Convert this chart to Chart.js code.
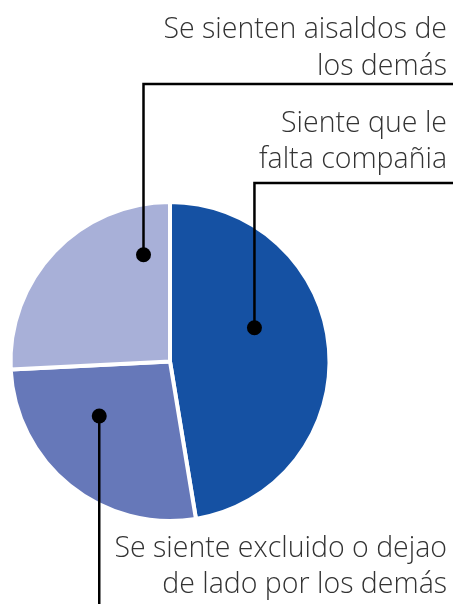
<!DOCTYPE html>
<html>
<head>
<meta charset="utf-8">
<script src="https://cdn.jsdelivr.net/npm/chart.js@4.4.0/dist/chart.umd.min.js"></script>
<style>
  html, body { margin: 0; padding: 0; background: #fff; }
  canvas { display: block; }
</style>
</head>
<body>
<canvas id="pieChart" width="453" height="604"></canvas>
<script>
// data (percent of respondents)
const categories = [
    'Siente que le falta compañia',
    'Se siente excluido o dejao de lado por los demás',
    'Se sienten aisaldos de los demás'
];
const values = [47.4, 26.8, 25.8];
const sliceColors = ['#1551a3', '#6678b9', '#a8b0d8'];

// label text split in lines, as printed
const labelLines = [
    ['Siente que le', 'falta compañia'],
    ['Se siente excluido o dejao', 'de lado por los demás'],
    ['Se sienten aisaldos de', 'los demás']
];

// where the dot sits inside each slice and where its label goes
const callouts = [
    { along: 0.40, depth: 0.57, lineY: 183, textY: [132, 168], dir: 'up' },
    { along: 0.64, depth: 0.56, lineY: 604, textY: [557, 593], dir: 'down' },
    { along: 0.85, depth: 0.69, lineY: 84,  textY: [38, 75],   dir: 'up' }
];

const calloutPlugin = {
    id: 'callouts',
    afterDraw(chart) {
        const ctx = chart.ctx;
        const arcs = chart.getDatasetMeta(0).data;
        const right = chart.width;
        ctx.save();
        arcs.forEach(function(arc, i) {
            const c = callouts[i];
            const p = arc.getProps(['x', 'y', 'startAngle', 'endAngle', 'outerRadius'], true);
            const a = p.startAngle + c.along * (p.endAngle - p.startAngle);
            const r = c.depth * p.outerRadius;
            const dx = p.x + Math.cos(a) * r;
            const dy = p.y + Math.sin(a) * r;

            ctx.strokeStyle = '#000';
            ctx.lineWidth = 2.5;
            ctx.beginPath();
            ctx.moveTo(dx, dy);
            ctx.lineTo(dx, c.lineY);
            if (c.dir === 'up') ctx.lineTo(right, c.lineY);
            ctx.stroke();

            ctx.fillStyle = '#000';
            ctx.beginPath();
            ctx.arc(dx, dy, 7.5, 0, Math.PI * 2);
            ctx.fill();

            ctx.fillStyle = '#333';
            ctx.font = '300 28.5px "Open Sans", sans-serif';
            ctx.textAlign = 'right';
            ctx.textBaseline = 'alphabetic';
            labelLines[i].forEach(function(line, k) {
                ctx.fillText(line, 447, c.textY[k]);
            });
        });
        ctx.restore();
    }
};

const ctx = document.getElementById('pieChart').getContext('2d');
const pieChart = new Chart(ctx, {
    type: 'pie',
    data: {
        labels: categories,
        datasets: [{
            data: values,
            backgroundColor: sliceColors,
            borderColor: '#ffffff',
            borderWidth: 4
        }]
    },
    options: {
        responsive: false,
        animation: false,
        layout: {
            padding: { left: 8.5, right: 121.5, top: 199.5, bottom: 80.5 }
        },
        plugins: {
            legend: { display: false },
            tooltip: { enabled: false }
        }
    },
    plugins: [calloutPlugin]
});
</script>
</body>
</html>
